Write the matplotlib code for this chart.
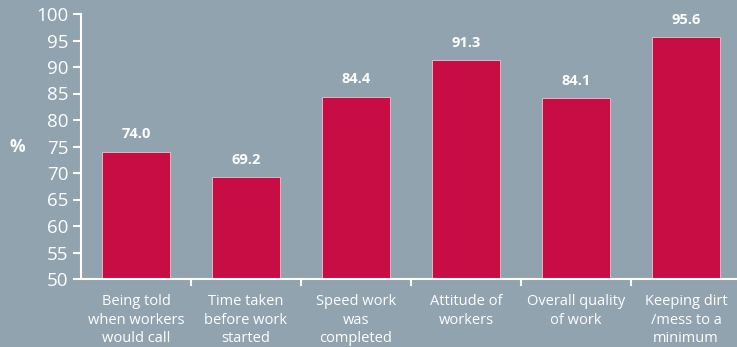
import matplotlib.pyplot as plt

categories = [
    "Being told\nwhen workers\nwould call",
    "Time taken\nbefore work\nstarted",
    "Speed work\nwas\ncompleted",
    "Attitude of\nworkers",
    "Overall quality\nof work",
    "Keeping dirt\n/mess to a\nminimum",
]
values = [74.0, 69.2, 84.4, 91.3, 84.1, 95.6]
y_ticks = list(range(50, 101, 5))

bg = "#91a3ae"
bar_color = "#c80c44"

plt.rcParams["font.family"] = ["Open Sans", "DejaVu Sans"]

fig = plt.figure(figsize=(7.37, 3.47), dpi=100, facecolor=bg)
ax = fig.add_axes([81 / 737, 1 - 279 / 347, 660 / 737, 265 / 347])
ax.set_facecolor(bg)

x = range(len(values))
ax.bar(x, values, width=0.62, bottom=0, color=bar_color, edgecolor="#e6c8d0", linewidth=0.6, zorder=2)
for i, v in enumerate(values):
    ax.text(i, v + 2.0, f"{v:.1f}", ha="center", va="bottom", color="white",
            fontsize=10.5, fontweight="bold")

ax.set_ylim(50, 100)
ax.set_xlim(-0.5, len(values) - 0.5)
ax.set_yticks(y_ticks)
ax.set_yticklabels([str(t) for t in y_ticks], color="white", fontsize=13.5)

# category labels centered, ticks drawn between the bars
ax.set_xticks(list(x))
ax.set_xticklabels(categories, color="white", fontsize=10.5, linespacing=1.3)
ax.tick_params(axis="x", which="major", length=0, pad=11)
ax.set_xticks([i + 0.5 for i in range(len(values) - 1)], minor=True)
ax.tick_params(axis="x", which="minor", length=5, width=1.5, color="white", direction="out")
ax.tick_params(axis="y", length=6, width=1.5, color="white", pad=3)

for s in ["top", "right"]:
    ax.spines[s].set_visible(False)
for s in ["left", "bottom"]:
    ax.spines[s].set_color("white")
    ax.spines[s].set_linewidth(1.5)

fig.text(10 / 737, 1 - 147 / 347, "%", color="white", fontsize=12.5, fontweight="bold",
         ha="left", va="center")

fig.savefig("out.png", facecolor=bg)
